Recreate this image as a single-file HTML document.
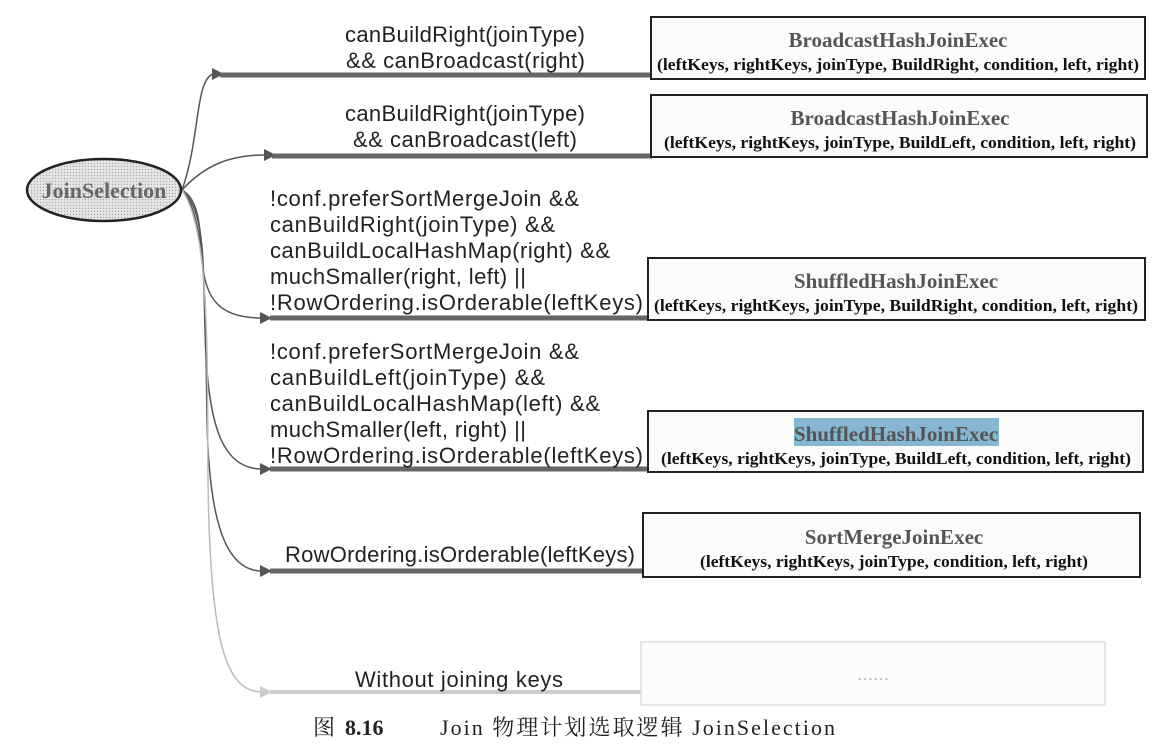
<!DOCTYPE html>
<html><head><meta charset="utf-8"><style>
body{margin:0;background:#fff;}
svg{display:block}
.lbl{font-family:"Liberation Sans",sans-serif;font-size:22px;fill:#222;}
.t{font-family:"Liberation Serif",serif;font-weight:bold;font-size:21px;fill:#555;}
.p{font-family:"Liberation Serif",serif;font-weight:bold;font-size:17px;fill:#111;}
.cap{font-family:"Liberation Serif","Noto Serif CJK SC",serif;font-size:22px;fill:#222;}
</style></head><body>
<svg width="1162" height="746" viewBox="0 0 1162 746" xmlns="http://www.w3.org/2000/svg">
<defs>
<pattern id="dots" width="3" height="3" patternUnits="userSpaceOnUse"><rect width="3" height="3" fill="#e6e6e6"/><circle cx="1.5" cy="1.5" r="0.7" fill="#aaa"/></pattern>
</defs>
<g fill="none" stroke="#555" stroke-width="1.5">
<path d="M182,190 C200,140 195,80 213,74"/>
<path d="M182,190 C205,165 230,155 265,155"/>
<path d="M182,190 C200,200 200,230 202,260 C205,300 220,318 262,318"/>
<path d="M182,190 C205,210 203,260 205,330 C207,420 220,469 262,469"/>
<path d="M182,190 C207,220 205,300 207,420 C209,520 225,571 262,571"/>
<path d="M182,190 C210,230 207,350 208,480 C210,640 225,692 262,692" stroke="#bbb"/>
</g>
<g fill="#555">
<polygon points="212,68 224,74 212,80"/>
<polygon points="264,149 276,155 264,161"/>
<polygon points="260,312 272,318 260,324"/>
<polygon points="260,463 272,469 260,475"/>
<polygon points="260,565 272,571 260,577"/>
<polygon points="260,686 272,692 260,698" fill="#ccc"/>
</g>
<g stroke="#666" stroke-width="5">
<line x1="220" y1="75" x2="652" y2="75"/>
<line x1="272" y1="156" x2="652" y2="156"/>
<line x1="270" y1="318" x2="648" y2="318"/>
<line x1="270" y1="469" x2="648" y2="469"/>
<line x1="270" y1="571" x2="643" y2="571"/>
<line x1="270" y1="692" x2="641" y2="692" stroke="#ccc" stroke-width="4"/>
</g>
<ellipse cx="104" cy="190" rx="77" ry="31" fill="url(#dots)" stroke="#222" stroke-width="2.5"/>
<text x="104" y="198" text-anchor="middle" font-family="Liberation Serif,serif" font-weight="bold" font-size="22" fill="#666">JoinSelection</text>

<g class="lbl">
<text x="345" y="42" textLength="240">canBuildRight(joinType)</text>
<text x="346" y="68" textLength="239">&amp;&amp; canBroadcast(right)</text>
<text x="345" y="121" textLength="240">canBuildRight(joinType)</text>
<text x="353" y="147" textLength="224">&amp;&amp; canBroadcast(left)</text>
<text x="270" y="206" textLength="309">!conf.preferSortMergeJoin &amp;&amp;</text>
<text x="270" y="232" textLength="285">canBuildRight(joinType) &amp;&amp;</text>
<text x="270" y="258" textLength="340">canBuildLocalHashMap(right) &amp;&amp;</text>
<text x="270" y="284" textLength="256">muchSmaller(right, left) ||</text>
<text x="270" y="310" textLength="373">!RowOrdering.isOrderable(leftKeys)</text>
<text x="270" y="359" textLength="309">!conf.preferSortMergeJoin &amp;&amp;</text>
<text x="270" y="385" textLength="275">canBuildLeft(joinType) &amp;&amp;</text>
<text x="270" y="411" textLength="330">canBuildLocalHashMap(left) &amp;&amp;</text>
<text x="270" y="437" textLength="256">muchSmaller(left, right) ||</text>
<text x="270" y="463" textLength="373">!RowOrdering.isOrderable(leftKeys)</text>
<text x="285" y="562" textLength="350">RowOrdering.isOrderable(leftKeys)</text>
<text x="355" y="687" textLength="208">Without joining keys</text>
</g>

<g fill="#fbfbfb" stroke="#222" stroke-width="2">
<rect x="651" y="17" width="494" height="62"/>
<rect x="651" y="95" width="496" height="62"/>
<rect x="648" y="258" width="497" height="62"/>
<rect x="648" y="411" width="495" height="61"/>
<rect x="643" y="513" width="497" height="64"/>
<rect x="641" y="642" width="464" height="63" stroke="#ddd" stroke-width="1.5" fill="#fcfcfc"/>
</g>
<rect x="794" y="418" width="205" height="28" fill="#86b6d2"/>
<g text-anchor="middle">
<text class="t" x="898" y="47">BroadcastHashJoinExec</text>
<text class="p" x="898" y="70" textLength="482" lengthAdjust="spacingAndGlyphs">(leftKeys, rightKeys, joinType, BuildRight, condition, left, right)</text>
<text class="t" x="900" y="125">BroadcastHashJoinExec</text>
<text class="p" x="900" y="148" textLength="472" lengthAdjust="spacingAndGlyphs">(leftKeys, rightKeys, joinType, BuildLeft, condition, left, right)</text>
<text class="t" x="896" y="288">ShuffledHashJoinExec</text>
<text class="p" x="896" y="311" textLength="484" lengthAdjust="spacingAndGlyphs">(leftKeys, rightKeys, joinType, BuildRight, condition, left, right)</text>
<text class="t" x="896" y="441">ShuffledHashJoinExec</text>
<text class="p" x="896" y="464" textLength="470" lengthAdjust="spacingAndGlyphs">(leftKeys, rightKeys, joinType, BuildLeft, condition, left, right)</text>
<text class="t" x="894" y="544">SortMergeJoinExec</text>
<text class="p" x="894" y="567" textLength="388" lengthAdjust="spacingAndGlyphs">(leftKeys, rightKeys, joinType, condition, left, right)</text>
<text x="873" y="680" font-family="Liberation Serif,serif" font-size="16" fill="#aaa">……</text>
</g>
<text class="cap" x="313" y="735">图</text>
<text class="cap" x="345" y="735" font-weight="bold">8.16</text>
<text class="cap" x="440" y="735" textLength="395">Join 物理计划选取逻辑 JoinSelection</text>
</svg>
</body></html>
